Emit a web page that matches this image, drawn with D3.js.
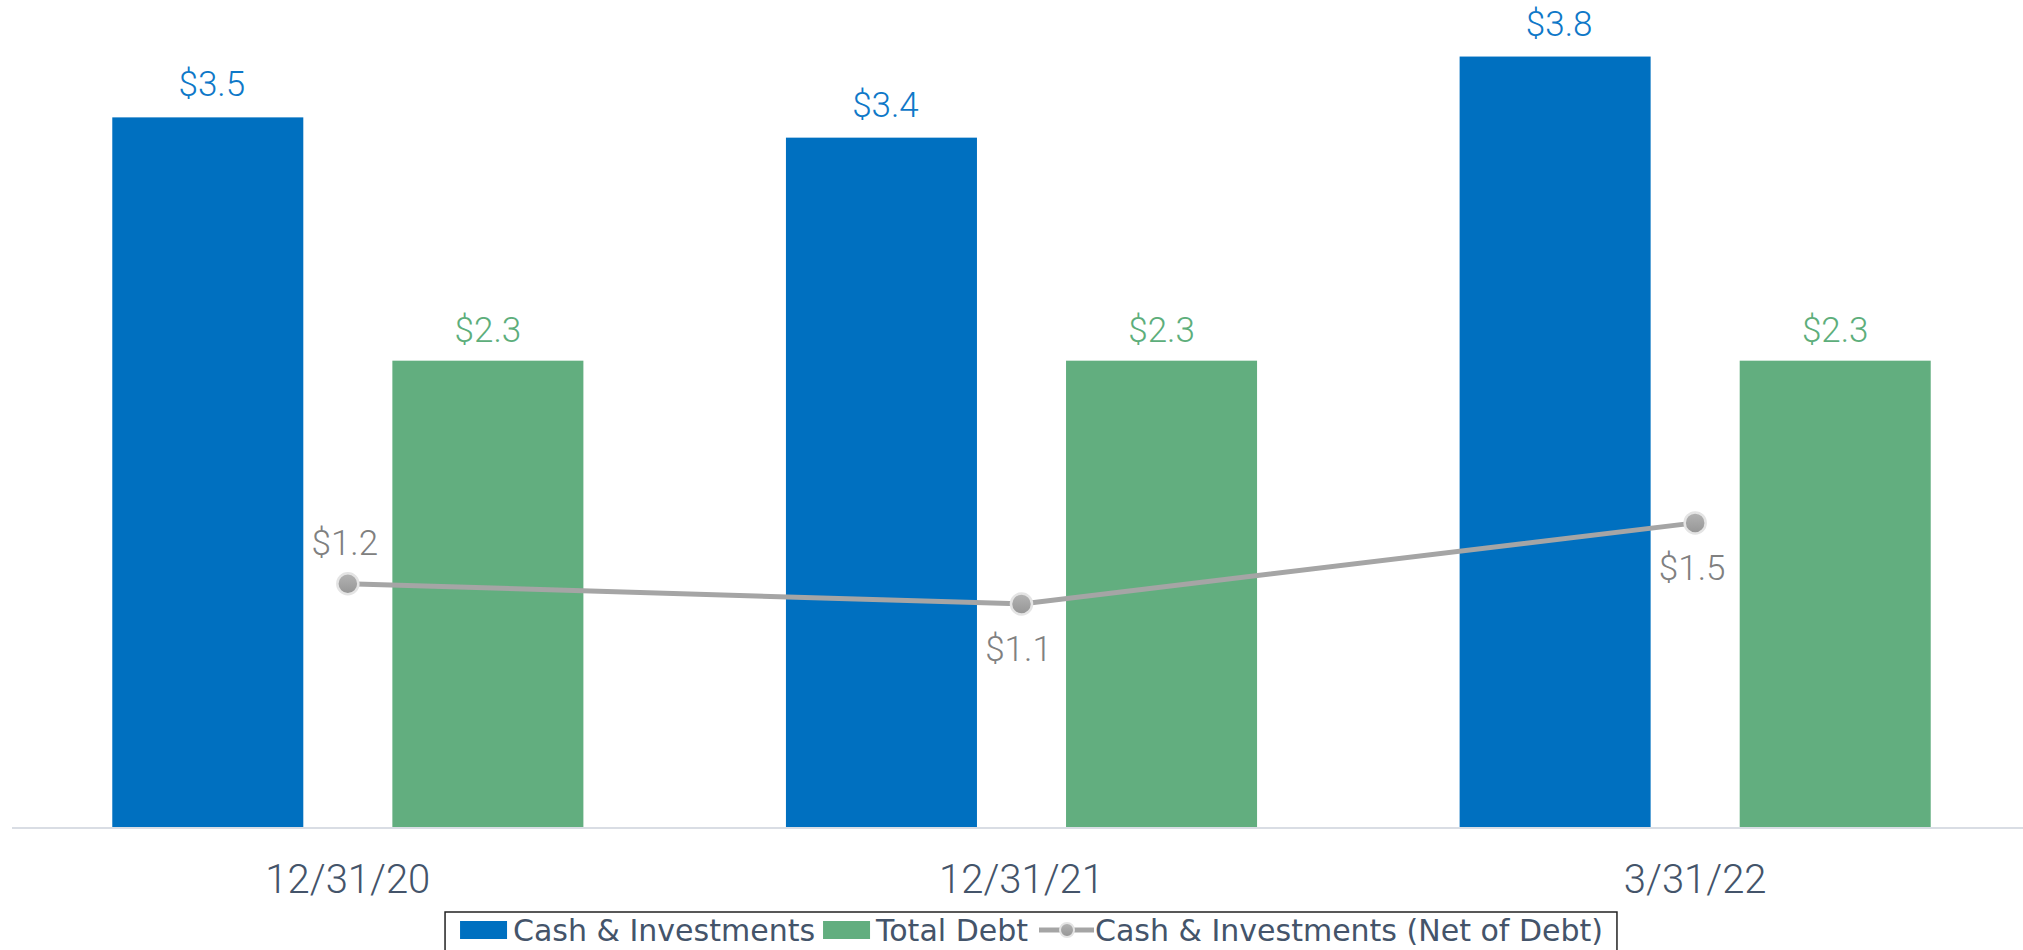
<!DOCTYPE html>
<html>
<head>
<meta charset="utf-8">
<script src="https://cdn.jsdelivr.net/npm/d3@7"></script>
<style>
  html, body { margin: 0; padding: 0; background: #fff; }
  svg { display: block; }
</style>
</head>
<body>
<svg id="chart" width="2023" height="950"></svg>
<script>
// data
var categories = ["12/31/20", "12/31/21", "3/31/22"];
var cashValues = [3.5, 3.4, 3.8];
var debtValues = [2.3, 2.3, 2.3];
var netValues = [1.2, 1.1, 1.5];
var seriesNames = ["Cash & Investments", "Total Debt", "Cash & Investments (Net of Debt)"];
var netLabelSide = ["above", "below", "below"];

var blue = "#0070c0", green = "#62ae7f", grey = "#a5a5a5";

var svg = d3.select("#chart");

var x0 = d3.scaleBand().domain(categories).range([11, 2032]).padding(0);
var x1 = d3.scaleBand().domain(["cash", "debt"])
    .range([0, x0.bandwidth()])
    .paddingInner(0.318)
    .paddingOuter(0.3616);
var y = d3.scaleLinear().domain([0, 4]).range([827, 16]);

var rows = categories.map(function(c, i) {
    return {cat: c, cash: cashValues[i], debt: debtValues[i], net: netValues[i], side: netLabelSide[i]};
});

// baseline
svg.append("line")
    .attr("x1", 12).attr("x2", 2023)
    .attr("y1", y(0) + 1).attr("y2", y(0) + 1)
    .attr("stroke", "#d9dde4").attr("stroke-width", 2);

// bars
var groups = svg.append("g").selectAll("g")
    .data(rows).enter().append("g")
    .attr("transform", function(d) { return "translate(" + x0(d.cat) + ",0)"; });

groups.append("rect")
    .attr("x", x1("cash")).attr("width", x1.bandwidth())
    .attr("y", function(d) { return y(d.cash); })
    .attr("height", function(d) { return y(0) - y(d.cash); })
    .attr("fill", blue);

groups.append("rect")
    .attr("x", x1("debt")).attr("width", x1.bandwidth())
    .attr("y", function(d) { return y(d.debt); })
    .attr("height", function(d) { return y(0) - y(d.debt); })
    .attr("fill", green);

groups.append("text")
    .attr("x", x1("cash") + x1.bandwidth() / 2 + 4)
    .attr("y", function(d) { return y(d.cash) - 21; })
    .attr("text-anchor", "middle")
    .attr("font-family", "Roboto")
    .attr("font-weight", 300)
    .attr("font-size", 35)
    .attr("fill", "#0e78c8")
    .text(function(d) { return "$" + d.cash.toFixed(1); });

groups.append("text")
    .attr("x", x1("debt") + x1.bandwidth() / 2)
    .attr("y", function(d) { return y(d.debt) - 19; })
    .attr("text-anchor", "middle")
    .attr("font-family", "Roboto")
    .attr("font-weight", 300)
    .attr("font-size", 35)
    .attr("fill", "#5dae7b")
    .text(function(d) { return "$" + d.debt.toFixed(1); });

// x labels
svg.append("g").selectAll("text")
    .data(categories).enter().append("text")
    .attr("x", function(d) { return x0(d) + x0.bandwidth() / 2; })
    .attr("y", 893)
    .attr("text-anchor", "middle")
    .attr("font-family", "Roboto")
    .attr("font-weight", 300)
    .attr("font-size", 40)
    .attr("fill", "#44546a")
    .text(function(d) { return d; });

// net line
var defs = svg.append("defs");
var grad = defs.append("linearGradient").attr("id", "dotGrad")
    .attr("x1", 0).attr("y1", 0).attr("x2", 0).attr("y2", 1);
grad.append("stop").attr("offset", "0%").attr("stop-color", "#b4b4b4");
grad.append("stop").attr("offset", "100%").attr("stop-color", "#959595");

var cx = function(d) { return x0(d.cat) + x0.bandwidth() / 2; };

svg.append("path")
    .datum(rows)
    .attr("fill", "none")
    .attr("stroke", grey)
    .attr("stroke-width", 5)
    .attr("d", d3.line().x(cx).y(function(d) { return y(d.net); }));

svg.append("g").selectAll("circle")
    .data(rows).enter().append("circle")
    .attr("cx", cx)
    .attr("cy", function(d) { return y(d.net); })
    .attr("r", 10.5)
    .attr("fill", "url(#dotGrad)")
    .attr("stroke", "#e4e4e4")
    .attr("stroke-width", 2.5);

svg.append("g").selectAll("text")
    .data(rows).enter().append("text")
    .attr("x", function(d) { return cx(d) - 3; })
    .attr("y", function(d) { return d.side == "above" ? y(d.net) - 29 : y(d.net) + 57; })
    .attr("text-anchor", "middle")
    .attr("font-family", "Roboto")
    .attr("font-weight", 300)
    .attr("font-size", 35)
    .attr("fill", "#808080")
    .text(function(d) { return "$" + d.net.toFixed(1); });

// legend
var legend = svg.append("g");
var box = legend.append("rect")
    .attr("fill", "#fff").attr("stroke", "#222").attr("stroke-width", 1.5);
var lx = 15, baseY = 941;
var items = legend.append("g");
seriesNames.forEach(function(name, i) {
    if (i < 2) {
        items.append("rect")
            .attr("x", lx).attr("y", 921)
            .attr("width", 47).attr("height", 18)
            .attr("fill", i == 0 ? blue : green);
        lx += 53;
    } else {
        items.append("line")
            .attr("x1", lx).attr("x2", lx + 55)
            .attr("y1", 930).attr("y2", 930)
            .attr("stroke", grey).attr("stroke-width", 5);
        items.append("circle")
            .attr("cx", lx + 28).attr("cy", 930).attr("r", 7)
            .attr("fill", "url(#dotGrad)").attr("stroke", "#e4e4e4").attr("stroke-width", 2);
        lx += 56;
    }
    var t = items.append("text")
        .attr("x", lx).attr("y", baseY)
        .attr("font-family", "DejaVu Sans")
        .attr("font-size", 30)
        .attr("fill", "#44546a")
        .text(name);
    lx += t.node().getComputedTextLength() + (i == 0 ? 8 : 11);
});
var boxW = lx - 4 + 7;
var boxX = 1031 - boxW / 2;
box.attr("x", 0).attr("y", 912).attr("width", boxW).attr("height", 45);
legend.attr("transform", "translate(" + boxX + ",0)");
</script>
</body>
</html>
